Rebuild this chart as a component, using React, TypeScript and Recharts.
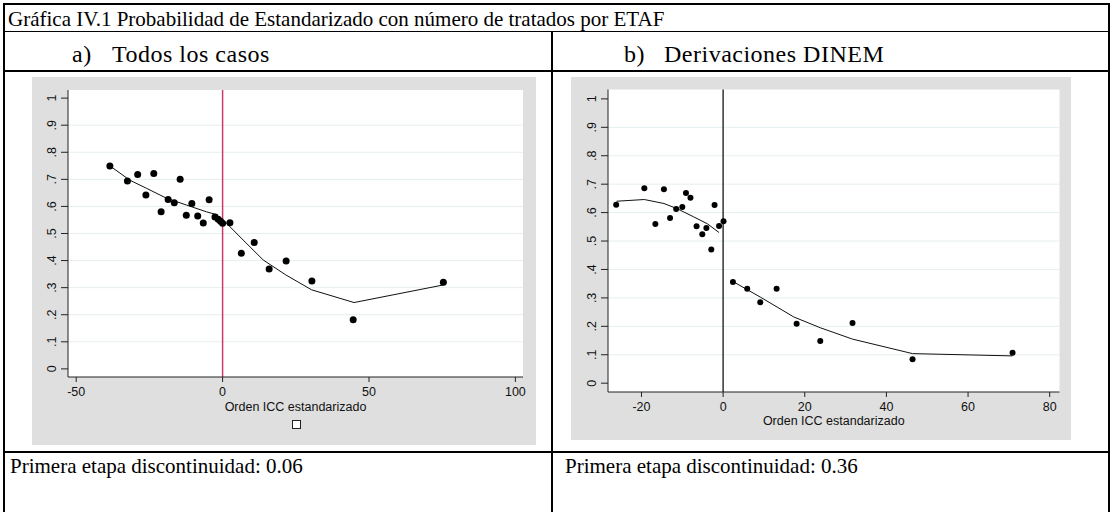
import React from "react";
import {
  ComposedChart,
  Scatter,
  Line,
  XAxis,
  YAxis,
  CartesianGrid,
  ReferenceLine,
  Label,
} from "recharts";

const SERIF = '"Liberation Serif", "Times New Roman", serif';
const SANS = '"Liberation Sans", Arial, sans-serif';

const TITLE =
  "Gráfica IV.1 Probabilidad de Estandarizado con número de tratados por ETAF";
const FOOT_A = "Primera etapa discontinuidad: 0.06";
const FOOT_B = "Primera etapa discontinuidad: 0.36";
const X_TITLE = "Orden ICC estandarizado";

const yTicks = [0, 0.1, 0.2, 0.3, 0.4, 0.5, 0.6, 0.7, 0.8, 0.9, 1];
const gridVals = [0.1, 0.2, 0.3, 0.4, 0.5, 0.6, 0.7, 0.8, 0.9];

// a) Todos los casos
const xTicksA = [-50, 0, 50, 100];
const ptsXA = [
  -38.5, -32.5, -29.0, -26.2, -23.5, -21.0, -18.6, -16.5, -14.5, -12.4, -10.5,
  -8.5, -6.6, -4.6, -2.6, -1.5, -0.7, 0, 2.5, 6.4, 10.8, 15.9, 21.7, 30.5, 44.6,
  75.4,
];
const ptsYA = [
  0.749, 0.694, 0.718, 0.642, 0.722, 0.58, 0.626, 0.614, 0.7, 0.567, 0.611,
  0.565, 0.539, 0.625, 0.561, 0.553, 0.545, 0.538, 0.54, 0.427, 0.467, 0.369,
  0.398, 0.325, 0.181, 0.32,
];
const fitLoXA = [-38, -31.7, -26, -19.1, -12.3, -5.5, -1.5];
const fitLoYA = [0.746, 0.697, 0.667, 0.63, 0.605, 0.58, 0.568];
const fitHiXA = [0.8, 7, 13.9, 21.6, 30.4, 44.9, 75.4];
const fitHiYA = [0.544, 0.476, 0.402, 0.347, 0.292, 0.245, 0.31];

// b) Derivaciones DINEM
const xTicksB = [-20, 0, 20, 40, 60, 80];
const ptsXB = [
  -26.2, -19.3, -16.6, -14.5, -13.0, -11.5, -10.0, -9.1, -8.0, -6.5, -5.1, -4.1,
  -2.9, -2.1, -1.0, 0.1, 2.4, 5.9, 9.1, 13.1, 18.0, 23.8, 31.7, 46.4, 70.9,
];
const ptsYB = [
  0.628, 0.686, 0.56, 0.682, 0.581, 0.613, 0.62, 0.669, 0.652, 0.552, 0.524,
  0.546, 0.47, 0.627, 0.553, 0.57, 0.356, 0.332, 0.285, 0.332, 0.209, 0.148,
  0.212, 0.084, 0.107,
];
const fitLoXB = [-26.1, -19.3, -14.5, -11.3, -7.2, -3.9, -1.0];
const fitLoYB = [0.64, 0.646, 0.632, 0.614, 0.585, 0.561, 0.53];
const fitHiXB = [2.6, 9.1, 17.3, 23.8, 31.7, 46.4, 70.9];
const fitHiYB = [0.356, 0.303, 0.233, 0.195, 0.155, 0.104, 0.096];

const toPts = (xs: number[], ys: number[]) =>
  xs.map((x, i) => ({ x, y: ys[i] }));

const fmtY = (v: number) =>
  v === 0 ? "0" : v === 1 ? "1" : v.toFixed(1).replace(/^0/, "");

const YTick = ({ x, y, payload }: any) => (
  <text
    x={x}
    y={y}
    transform={`rotate(-90, ${x}, ${y})`}
    textAnchor='middle'
    fontSize={12.5}
    fontFamily={SANS}
    fill='#111'
  >
    {fmtY(payload.value)}
  </text>
);

type PanelProps = {
  left: number;
  top: number;
  width: number;
  height: number;
  margin: { top: number; right: number; left: number; bottom: number };
  yAxisWidth: number;
  xAxisHeight: number;
  xDomain: [number, number];
  yDomain: [number, number];
  xTicks: number[];
  points: { x: number; y: number }[];
  fitLo: { x: number; y: number }[];
  fitHi: { x: number; y: number }[];
  cutColor: string;
  dotR: number;
  titleOffset: number;
};

const Panel = (p: PanelProps) => (
  <div
    style={{
      position: "absolute",
      left: p.left,
      top: p.top,
      width: p.width,
      height: p.height,
      background: "#dfdfdf",
    }}
  >
    <ComposedChart width={p.width} height={p.height} margin={p.margin}>
      <CartesianGrid
        fill='#fff'
        fillOpacity={1}
        stroke='none'
        horizontal={false}
        vertical={false}
      />
      {gridVals.map((v) => (
        <ReferenceLine key={v} y={v} stroke='#e6eef0' strokeWidth={1} />
      ))}
      <XAxis
        type='number'
        dataKey='x'
        domain={p.xDomain}
        ticks={p.xTicks}
        interval={0}
        allowDataOverflow
        height={p.xAxisHeight}
        tickSize={5}
        tickMargin={5}
        stroke='#222'
        tick={{ fill: "#111", fontSize: 12.5, fontFamily: SANS }}
      >
        <Label
          value={X_TITLE}
          position='insideTop'
          offset={p.titleOffset}
          fill='#111'
          fontSize={12.5}
          fontFamily={SANS}
        />
      </XAxis>
      <YAxis
        type='number'
        dataKey='y'
        domain={p.yDomain}
        ticks={yTicks}
        interval={0}
        allowDataOverflow
        width={p.yAxisWidth}
        tickSize={7}
        tickMargin={5}
        stroke='#222'
        tick={<YTick />}
      />
      <ReferenceLine x={0} stroke={p.cutColor} strokeWidth={1.5} />
      <Line
        data={p.fitLo}
        dataKey='y'
        type='linear'
        stroke='#111'
        strokeWidth={1}
        dot={false}
        activeDot={false}
        isAnimationActive={false}
      />
      <Line
        data={p.fitHi}
        dataKey='y'
        type='linear'
        stroke='#111'
        strokeWidth={1}
        dot={false}
        activeDot={false}
        isAnimationActive={false}
      />
      <Scatter
        data={p.points}
        fill='#000'
        isAnimationActive={false}
        shape={(s: any) => (
          <circle cx={s.cx} cy={s.cy} r={p.dotR} fill='#000' />
        )}
      />
    </ComposedChart>
  </div>
);

const hLine = (y: number) => (
  <div
    style={{
      position: "absolute",
      left: 3,
      top: y,
      width: 1107,
      height: 1.5,
      background: "#000",
    }}
  />
);

const vLine = (x: number, y0: number) => (
  <div
    style={{
      position: "absolute",
      left: x,
      top: y0,
      width: 1.5,
      height: 512 - y0,
      background: "#000",
    }}
  />
);

const txt = (s: string, x: number, y: number, size = 21, spacing = 0) => (
  <div
    style={{
      position: "absolute",
      left: x,
      top: y,
      fontFamily: SERIF,
      fontSize: size,
      lineHeight: `${size}px`,
      letterSpacing: spacing,
      whiteSpace: "nowrap",
      color: "#000",
    }}
  >
    {s}
  </div>
);

export default function App() {
  return (
    <div
      style={{
        position: "absolute",
        left: 0,
        top: 0,
        width: 1110,
        height: 512,
        background: "#fff",
        overflow: "hidden",
      }}
    >
      {hLine(3)}
      {hLine(30.5)}
      {hLine(70)}
      {hLine(451)}
      {vLine(3, 3)}
      {vLine(1108, 3)}
      {vLine(551, 30.5)}

      {txt(TITLE, 8, 9)}
      {txt("a)", 72, 42, 24, 0.5)}
      {txt("Todos los casos", 112, 42, 24, 0.5)}
      {txt("b)", 624, 42, 24, 0.5)}
      {txt("Derivaciones DINEM", 664, 42, 24, 0.5)}
      {txt(FOOT_A, 10, 456)}
      {txt(FOOT_B, 565, 456)}

      <Panel
        left={32}
        top={77}
        width={504}
        height={368}
        margin={{ top: 13, right: 13, left: 0, bottom: 0 }}
        yAxisWidth={36}
        xAxisHeight={68}
        xDomain={[-52.8, 102.6]}
        yDomain={[-0.03, 1.03]}
        xTicks={xTicksA}
        points={toPts(ptsXA, ptsYA)}
        fitLo={toPts(fitLoXA, fitLoYA)}
        fitHi={toPts(fitHiXA, fitHiYA)}
        cutColor='#cc3d66'
        dotR={3.5}
        titleOffset={25}
      />
      <div
        style={{
          position: "absolute",
          left: 292,
          top: 420,
          width: 7,
          height: 7,
          border: "1px solid #222",
          background: "#fff",
        }}
      />

      <Panel
        left={571}
        top={77}
        width={500}
        height={363}
        margin={{ top: 12.5, right: 11.5, left: 0, bottom: 0 }}
        yAxisWidth={37}
        xAxisHeight={48}
        xDomain={[-28.2, 82.4]}
        yDomain={[-0.031, 1.033]}
        xTicks={xTicksB}
        points={toPts(ptsXB, ptsYB)}
        fitLo={toPts(fitLoXB, fitLoYB)}
        fitHi={toPts(fitHiXB, fitHiYB)}
        cutColor='#333'
        dotR={3}
        titleOffset={24}
      />
    </div>
  );
}
